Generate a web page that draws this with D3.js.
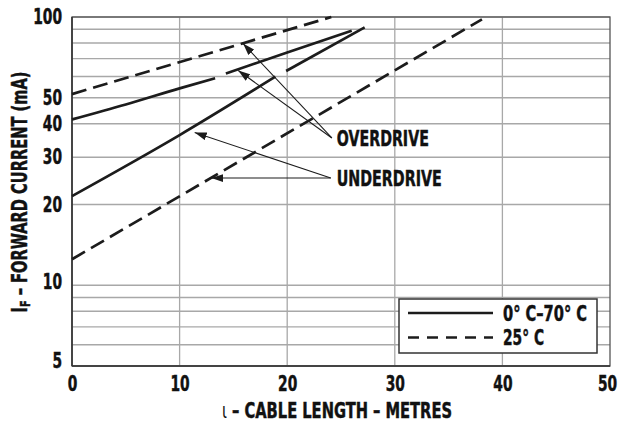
<!DOCTYPE html>
<html>
<head>
<meta charset="utf-8">
<script src="https://cdn.jsdelivr.net/npm/d3@7"></script>
<style>
  html, body { margin: 0; padding: 0; background: #fff; }
  svg { display: block; }
  .lbl { font-family: "DejaVu Sans Condensed", "Liberation Sans Narrow", sans-serif; font-weight: bold; fill: #111; stroke: #111; stroke-width: 0.45px; }
</style>
</head>
<body>
<svg id="chart" width="620" height="423"></svg>
<script>
// ---------------- DATA ----------------
const xTicks = [0, 10, 20, 30, 40, 50];
const yTickLabels = [5, 10, 20, 30, 40, 50, 100];
const yGrid = [5, 6, 7, 8, 9, 10, 20, 30, 40, 50, 60, 70, 80, 90, 100];
const xGrid = [10, 20, 30, 40];

// 0°C–70°C (solid) overdrive curve, two pieces (small break in original)
const over0to70A = [[0, 41.5], [5, 47.2], [10, 54.2], [13.3, 59.1]];
const over0to70B = [[14.3, 61.6], [20, 73.7], [26, 88.9]];
// 0°C–70°C (solid) underdrive curve
const under0to70A = [[0, 21.5], [10, 36.3], [18.9, 59.9]];
const under0to70B = [[19.9, 62.9], [27.2, 91.5]];
// 25°C (dashed)
const over25 = [[0, 51.6], [24.1, 100]];
const under25 = [[0, 12.5], [38.1, 98]];

// Annotation anchors in data units: [length, current]
const overdriveTail = [24.15, 35.4];
const overdriveTips = [[15.9, 79.6], [15.45, 63.2]];
const underdriveTail = [24.05, 25.1];
const underdriveTips = [[11.4, 37.1], [12.95, 25.1]];

const legendItems = [
  { label: "0° C–70° C", dash: null, len: 84 },
  { label: "25° C", dash: "11,8", len: 41 }
];

// ---------------- CHART ----------------
const svg = d3.select("#chart");
const x = d3.scaleLinear().domain([0, 50]).range([72, 610]);
const y = d3.scaleLog().domain([5, 100]).range([366, 17]);
const ink = "#1c1c1c";
const FS = 21;
const SQ = 0.73; // horizontal squeeze for condensed digits

// grid
svg.append("g").selectAll("line").data(yGrid).join("line")
  .attr("x1", x(0)).attr("x2", x(50))
  .attr("y1", d => y(d)).attr("y2", d => y(d))
  .attr("stroke", "#a8a8a8").attr("stroke-width", 1.3);
svg.append("g").selectAll("line").data(xGrid).join("line")
  .attr("x1", d => x(d)).attr("x2", d => x(d))
  .attr("y1", y(5)).attr("y2", y(100))
  .attr("stroke", "#a8a8a8").attr("stroke-width", 1.3);

// frame
svg.append("rect").attr("x", x(0)).attr("y", y(100))
  .attr("width", x(50) - x(0)).attr("height", y(5) - y(100))
  .attr("fill", "none").attr("stroke", "#555").attr("stroke-width", 1.3);
svg.append("line").attr("x1", x(0)).attr("x2", x(0)).attr("y1", y(100)).attr("y2", y(5))
  .attr("stroke", "#333").attr("stroke-width", 1.6);
svg.append("line").attr("x1", x(0)).attr("x2", x(50)).attr("y1", y(5)).attr("y2", y(5))
  .attr("stroke", "#333").attr("stroke-width", 1.6);

// axes (labels only)
const yAxis = svg.append("g").attr("transform", `translate(${x(0)},0)`)
  .call(d3.axisLeft(y).tickValues(yTickLabels).tickFormat(d3.format("d")).tickSize(0).tickPadding(10));
const xAxis = svg.append("g").attr("transform", `translate(0,${y(5)})`)
  .call(d3.axisBottom(x).tickValues(xTicks).tickFormat(d3.format("d")).tickSize(0).tickPadding(10));
[yAxis, xAxis].forEach(g => {
  g.select(".domain").remove();
  g.selectAll("text").attr("class", "lbl").attr("font-size", FS).attr("fill", "#111")
    .attr("transform", `scale(${SQ},1)`);
});
yAxis.selectAll("text").attr("x", -10 / SQ);
yAxis.selectAll("text").filter(d => d === 5).attr("dy", "0.06em");
yAxis.selectAll("text").filter(d => d === 10).attr("dy", "0.14em");
xAxis.selectAll("text").filter(d => d === 50).attr("x", -3 / SQ);

// curves
const line = d3.line().x(d => x(d[0])).y(d => y(d[1])).curve(d3.curveMonotoneX);
const solids = [over0to70A, over0to70B, under0to70A, under0to70B];
const dashed = [over25, under25];
svg.append("g").selectAll("path").data(solids).join("path")
  .attr("d", line).attr("fill", "none").attr("stroke", ink).attr("stroke-width", 2.7);
svg.append("g").selectAll("path").data(dashed).join("path")
  .attr("d", line).attr("fill", "none").attr("stroke", ink).attr("stroke-width", 2.7)
  .attr("stroke-dasharray", "15,7");

// arrows
svg.append("defs").append("marker")
  .attr("id", "arrow").attr("viewBox", "0 0 12 8").attr("refX", 12).attr("refY", 4)
  .attr("markerWidth", 12).attr("markerHeight", 8).attr("markerUnits", "userSpaceOnUse")
  .attr("orient", "auto")
  .append("path").attr("d", "M0,0 L12,4 L0,8 Z").attr("fill", ink);

const arrows = [
  ...overdriveTips.map(t => [overdriveTail, t]),
  ...underdriveTips.map(t => [underdriveTail, t])
];
svg.append("g").selectAll("line").data(arrows).join("line")
  .attr("x1", d => x(d[0][0])).attr("y1", d => y(d[0][1]))
  .attr("x2", d => x(d[1][0])).attr("y2", d => y(d[1][1]))
  .attr("stroke", ink).attr("stroke-width", 1.1).attr("marker-end", "url(#arrow)");

svg.append("text").attr("class", "lbl").attr("font-size", FS)
  .attr("x", x(overdriveTail[0]) + 5).attr("y", y(overdriveTail[1]) + 8.5)
  .attr("textLength", 92).attr("lengthAdjust", "spacingAndGlyphs")
  .text("OVERDRIVE");
svg.append("text").attr("class", "lbl").attr("font-size", FS)
  .attr("x", x(underdriveTail[0]) + 6).attr("y", y(underdriveTail[1]) + 7.5)
  .attr("textLength", 105).attr("lengthAdjust", "spacingAndGlyphs")
  .text("UNDERDRIVE");

// legend
const lg = svg.append("g").attr("transform", "translate(399,299)");
lg.append("rect").attr("width", 198).attr("height", 54)
  .attr("fill", "#fff").attr("stroke", "#333").attr("stroke-width", 1.5);
const li = lg.selectAll("g.item").data(legendItems).join("g")
  .attr("class", "item").attr("transform", (d, i) => `translate(0,${14 + i * 24.5})`);
li.append("line").attr("x1", 9).attr("x2", 94).attr("y1", 0).attr("y2", 0)
  .attr("stroke", ink).attr("stroke-width", 2.7)
  .attr("stroke-dasharray", d => d.dash);
li.append("text").attr("class", "lbl").attr("font-size", FS)
  .attr("x", 104).attr("y", 7.5)
  .attr("textLength", d => d.len).attr("lengthAdjust", "spacingAndGlyphs")
  .text(d => d.label);

// axis titles
const xt = svg.append("text").attr("class", "lbl").attr("font-size", FS)
  .attr("x", 337).attr("y", 418).attr("text-anchor", "middle")
  .attr("textLength", 230).attr("lengthAdjust", "spacingAndGlyphs");
xt.append("tspan").attr("font-weight", "normal").attr("stroke-width", 0).text("ι");
xt.append("tspan").text(" – CABLE LENGTH – METRES");

const yt = svg.append("text").attr("class", "lbl").attr("font-size", FS)
  .attr("transform", "translate(27,192) rotate(-90)").attr("text-anchor", "middle")
  .attr("textLength", 241).attr("lengthAdjust", "spacingAndGlyphs");
yt.append("tspan").text("I");
yt.append("tspan").attr("font-size", 14).attr("dy", 3).text("F");
yt.append("tspan").attr("dy", -3).text(" – FORWARD CURRENT (mA)");
</script>
</body>
</html>
